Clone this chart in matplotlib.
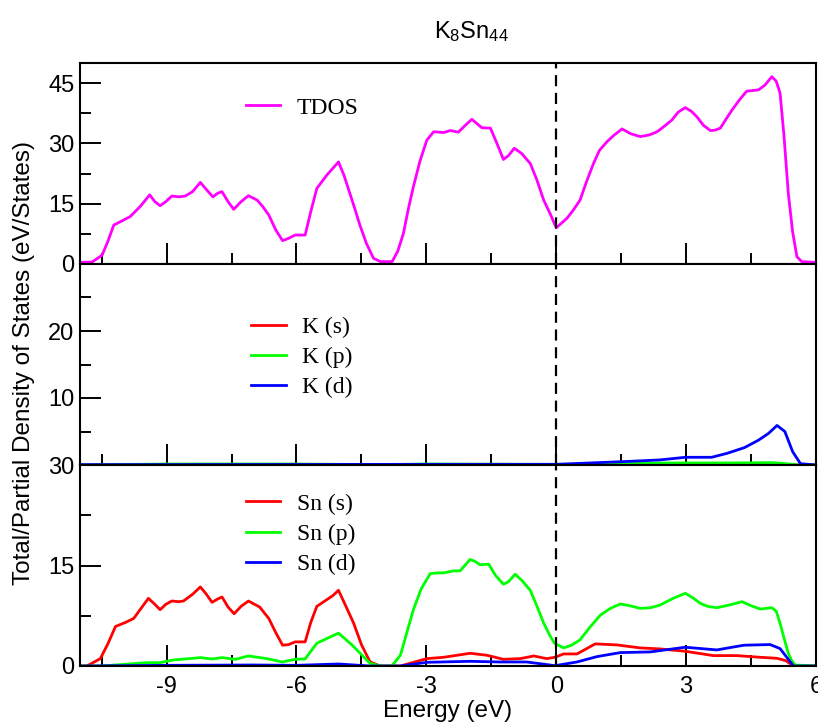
import matplotlib
matplotlib.use("Agg")
import matplotlib.pyplot as plt
from matplotlib.ticker import FixedLocator

plt.rcParams['mathtext.fontset'] = 'custom'
plt.rcParams['mathtext.rm'] = 'Liberation Sans'
plt.rcParams['mathtext.it'] = 'Liberation Sans'

# ---- data (Energy in eV) ----
tdos_e = [-11.0, -10.72, -10.49, -10.35, -10.22, -10.07, -9.84, -9.61, -9.39, -9.27,
          -9.15, -9.02, -8.88, -8.72, -8.57, -8.40, -8.22, -8.08, -7.93, -7.82,
          -7.72, -7.58, -7.45, -7.28, -7.11, -6.91, -6.78, -6.64, -6.48, -6.32,
          -6.18, -6.03, -5.80, -5.67, -5.53, -5.30, -5.16, -5.03, -4.90, -4.66,
          -4.53, -4.38, -4.22, -4.06, -3.79, -3.66, -3.53, -3.42, -3.30, -3.15,
          -2.99, -2.83, -2.60, -2.45, -2.26, -2.10, -1.95, -1.72, -1.52, -1.37,
          -1.22, -1.10, -0.97, -0.80, -0.60, -0.45, -0.29, -0.14, 0.0, 0.25,
          0.40, 0.55, 0.70, 0.86, 1.0, 1.17, 1.33, 1.52, 1.72, 1.94,
          2.15, 2.33, 2.50, 2.67, 2.82, 2.98, 3.12, 3.25, 3.40, 3.56,
          3.67, 3.79, 3.92, 4.06, 4.23, 4.40, 4.67, 4.82, 4.98, 5.08,
          5.17, 5.26, 5.36, 5.46, 5.56, 5.67, 6.0]
tdos = [0.4, 0.5, 2.2, 5.8, 9.7, 10.5, 11.8, 14.3, 17.2, 15.5,
        14.5, 15.5, 16.9, 16.7, 16.9, 18.0, 20.3, 18.5, 16.7, 17.6,
        18.0, 15.5, 13.6, 15.5, 17.0, 15.9, 14.3, 12.2, 8.5, 5.8,
        6.4, 7.2, 7.2, 13.0, 18.8, 22.1, 23.8, 25.4, 22.0, 14.0,
        9.5, 5.0, 1.4, 0.6, 0.6, 3.2, 7.6, 13.5, 19.2, 25.5,
        30.8, 32.9, 32.7, 33.2, 32.8, 34.5, 36.0, 33.9, 33.8, 30.0,
        26.0, 27.0, 28.8, 27.5, 25.0, 21.0, 15.9, 12.5, 9.0, 11.4,
        13.5, 15.9, 20.5, 25.0, 28.3, 30.4, 32.0, 33.6, 32.4, 31.7,
        32.1, 32.9, 34.3, 35.8, 37.8, 38.9, 38.0, 36.6, 34.5, 33.2,
        33.3, 33.8, 36.0, 38.3, 40.8, 43.0, 43.3, 44.5, 46.6, 45.5,
        42.5, 32.0, 17.6, 8.0, 1.8, 0.6, 0.4]

kd_e = [-11.0, -6.0, -3.0, 0.0, 1.53, 2.38, 2.98, 3.59, 3.95, 4.35, 4.67, 4.90, 5.10,
        5.28, 5.46, 5.64, 6.0]
kd = [0.05, 0.08, 0.1, 0.1, 0.5, 0.75, 1.15, 1.15, 1.75, 2.6, 3.7, 4.7, 5.9,
      5.0, 2.0, 0.2, 0.0]
kp_e = [-11.0, -9.0, -6.0, -4.0, -3.0, 0.0, 1.5, 2.5, 4.0, 5.0, 5.3, 5.6, 6.0]
kp = [0.0, 0.15, 0.15, 0.05, 0.15, 0.1, 0.2, 0.3, 0.3, 0.35, 0.2, 0.0, 0.0]
ks_e = [-11.0, -9.0, -6.0, -4.0, -3.0, 0.0, 2.0, 4.0, 5.0, 5.6, 6.0]
ks = [0.0, 0.05, 0.1, 0.0, 0.05, 0.05, 0.1, 0.1, 0.1, 0.0, 0.0]

sns_e = [-11.0, -10.84, -10.53, -10.35, -10.18, -9.95, -9.76, -9.42, -9.27, -9.15,
         -9.02, -8.88, -8.72, -8.61, -8.40, -8.22, -8.08, -7.95, -7.82, -7.72,
         -7.58, -7.44, -7.28, -7.11, -6.85, -6.64, -6.48, -6.32, -6.18, -6.03,
         -5.80, -5.67, -5.53, -5.30, -5.16, -5.03, -4.90, -4.68, -4.50, -4.30,
         -4.06, -3.60, -2.99, -2.60, -1.99, -1.60, -1.22, -0.83, -0.52, -0.22,
         -0.03, 0.17, 0.48, 0.90, 1.40, 1.94, 2.40, 2.98, 3.63, 4.17,
         4.71, 5.10, 5.30, 5.48, 6.0]
sns = [0.0, 0.0, 1.1, 3.4, 5.9, 6.5, 7.1, 10.1, 9.2, 8.4,
       9.2, 9.7, 9.6, 9.7, 10.7, 11.8, 10.7, 9.5, 10.0, 10.3,
       8.8, 7.8, 8.9, 9.7, 8.8, 7.1, 5.0, 3.1, 3.2, 3.6,
       3.6, 6.5, 8.9, 9.9, 10.5, 11.3, 9.5, 6.4, 3.2, 0.6,
       0.0, 0.0, 1.1, 1.3, 1.9, 1.6, 1.0, 1.1, 1.5, 1.1,
       1.3, 1.8, 1.8, 3.3, 3.15, 2.7, 2.55, 2.2, 1.55, 1.55,
       1.3, 1.15, 0.8, 0.0, 0.0]

snp_e = [-11.0, -10.5, -9.45, -9.15, -8.84, -8.22, -7.95, -7.72, -7.41, -7.11,
         -6.68, -6.33, -6.03, -5.80, -5.53, -5.30, -5.03, -4.71, -4.30, -4.06,
         -3.80, -3.60, -3.45, -3.30, -3.12, -2.91, -2.75, -2.60, -2.37, -2.22,
         -1.99, -1.87, -1.76, -1.56, -1.40, -1.22, -1.10, -0.95, -0.80, -0.60,
         -0.45, -0.29, -0.15, -0.04, 0.17, 0.35, 0.55, 0.78, 1.02, 1.25,
         1.48, 1.70, 1.94, 2.18, 2.40, 2.70, 2.98, 3.15, 3.33, 3.50,
         3.71, 4.00, 4.29, 4.50, 4.71, 4.98, 5.08, 5.17, 5.26, 5.36,
         5.44, 5.52, 6.0]
snp = [0.0, 0.0, 0.5, 0.5, 0.9, 1.25, 1.05, 1.25, 1.0, 1.5,
       1.1, 0.6, 1.0, 1.05, 3.4, 4.1, 4.9, 3.1, 0.4, 0.0,
       0.0, 1.6, 5.0, 8.4, 11.5, 13.8, 13.9, 13.9, 14.2, 14.2,
       15.9, 15.6, 15.1, 15.2, 13.5, 12.2, 12.6, 13.7, 12.8, 11.3,
       9.0, 6.4, 4.6, 3.4, 2.7, 3.1, 3.9, 5.8, 7.6, 8.6,
       9.25, 9.0, 8.6, 8.7, 9.1, 10.1, 10.85, 10.2, 9.35, 8.9,
       8.7, 9.1, 9.6, 9.0, 8.5, 8.7, 8.2, 6.4, 4.2, 1.9,
       0.8, 0.15, 0.0]

snd_e = [-11.0, -9.0, -7.0, -6.0, -5.03, -4.3, -3.6, -2.99, -1.99, -1.30,
         -0.68, -0.03, 0.48, 0.94, 1.48, 2.17, 2.98, 3.71, 4.33, 4.94,
         5.17, 5.48, 6.0]
snd = [0.0, 0.1, 0.15, 0.1, 0.3, 0.0, 0.0, 0.55, 0.7, 0.6,
       0.6, 0.05, 0.6, 1.4, 2.0, 2.1, 2.8, 2.4, 3.1, 3.2,
       2.6, 0.0, 0.0]

xticks = [-9, -6, -3, 0, 3, 6]
xtick_labels = ['-9', '-6', '-3', '0', '3', '6']

tick_font = 'Liberation Sans'
legend_font = 'Liberation Serif'

fig = plt.figure(figsize=(8.18, 7.24), dpi=100)
left, width = 80 / 818, 736 / 818
tops = [63, 264, 465]
h = 201
axes = []
for t in tops:
    ax = fig.add_axes([left, 1 - (t + h) / 724, width, h / 724])
    axes.append(ax)
ax1, ax2, ax3 = axes

lw = 2.0
kw = dict(lw=lw, solid_joinstyle='round')
ax1.plot(tdos_e, tdos, color='#ff00ff', label='TDOS', **kw)
ax2.plot(ks_e, ks, color='#ff0000', label='K (s)', **kw)
ax2.plot(kp_e, kp, color='#00ff00', label='K (p)', **kw)
ax2.plot(kd_e, kd, color='#0000ff', label='K (d)', **kw)
ax3.plot(sns_e, sns, color='#ff0000', label='Sn (s)', **kw)
ax3.plot(snp_e, snp, color='#00ff00', label='Sn (p)', **kw)
ax3.plot(snd_e, snd, color='#0000ff', label='Sn (d)', **kw)

ax1.set_ylim(0, 50)
ax2.set_ylim(0, 30)
ax3.set_ylim(0, 30)
ax1.yaxis.set_major_locator(FixedLocator([0, 15, 30, 45]))
ax1.yaxis.set_minor_locator(FixedLocator([7.5, 22.5, 37.5]))
ax2.yaxis.set_major_locator(FixedLocator([10, 20]))
ax2.yaxis.set_minor_locator(FixedLocator([5, 15, 25]))
ax3.yaxis.set_major_locator(FixedLocator([0, 15, 30]))
ax3.yaxis.set_minor_locator(FixedLocator([7.5, 22.5]))

# legend anchors (axes fraction) per panel
leg_anchor = [(0.2255, 0.83), (0.233, 0.74), (0.2255, 0.86)]

for ax, anc in zip(axes, leg_anchor):
    ax.set_xlim(-11, 6)
    ax.set_xticks(xticks)
    ax.xaxis.set_minor_locator(FixedLocator([-10.5, -7.5, -4.5, -1.5, 1.5, 4.5]))
    ax.axvline(0, color='black', ls=(0, (5, 3)), lw=1.6)
    ax.tick_params(which='both', direction='in', top=False, right=False, width=1.4,
                   labelsize=17, pad=4)
    ax.tick_params(which='major', length=15)
    ax.tick_params(which='minor', length=8)
    for s in ax.spines.values():
        s.set_linewidth(1.5)
    for lab in ax.get_yticklabels():
        lab.set_family(tick_font)
    if ax is not ax3:
        ax.tick_params(labelbottom=False)
    ax.legend(loc='upper left', bbox_to_anchor=anc, frameon=False, borderpad=0,
              borderaxespad=0, prop={'family': legend_font, 'size': 17},
              handlelength=1.45, handletextpad=0.7, labelspacing=0.37)

ax3.set_xticklabels(xtick_labels, family=tick_font)
ax3.tick_params(axis='x', pad=7)
ax3.set_xlabel('Energy (eV)', family=tick_font, fontsize=17.5, labelpad=2)

fig.text(24 / 818, 1 - 363 / 724, 'Total/Partial Density of States (eV/States)',
         rotation=90, ha='center', va='center', family=tick_font, fontsize=17.5)
fig.text(471 / 818, 1 - 32 / 724, r'K$_8$Sn$_{44}$', ha='center', va='center',
         family=tick_font, fontsize=17)

fig.savefig('out.png', dpi=100)
